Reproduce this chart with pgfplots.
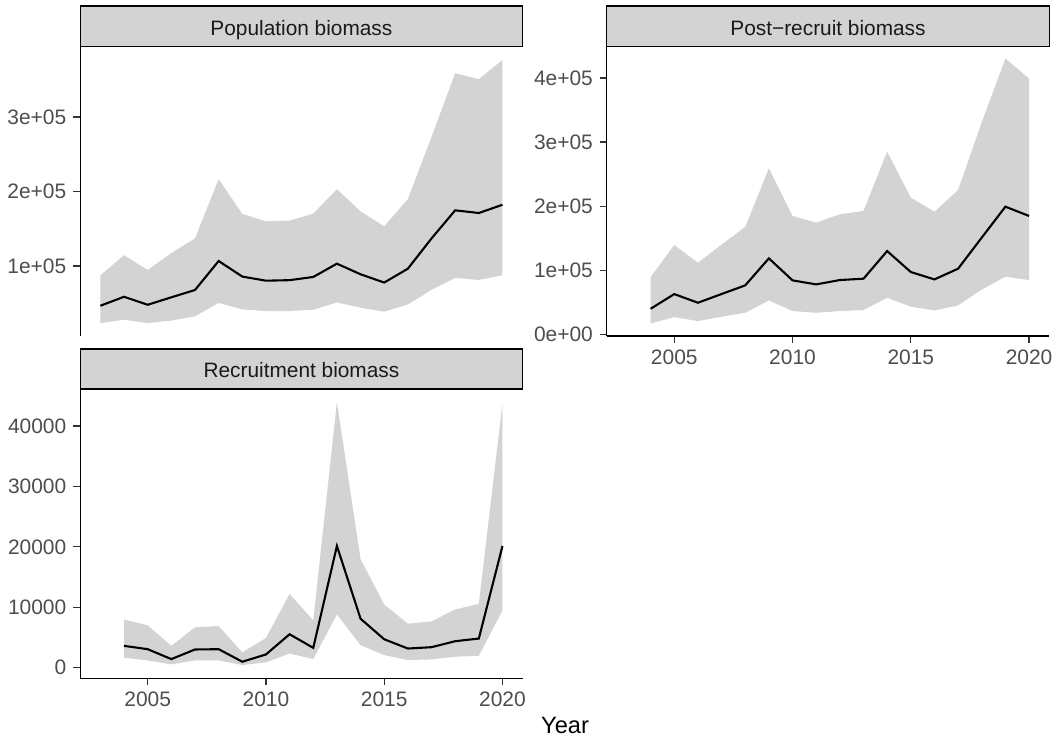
\documentclass[border=0pt]{standalone}
\usepackage{fontspec}
\setmainfont{Liberation Sans}
\usepackage{pgfplots}
\pgfplotsset{compat=1.18}
\usepackage{pgfplotstable}
\usepgfplotslibrary{fillbetween}
\definecolor{band}{HTML}{D3D3D3}
\definecolor{ticklab}{HTML}{4D4D4D}
\definecolor{tickcol}{HTML}{333333}
\definecolor{striptext}{HTML}{1A1A1A}

\pgfplotstableread{
year lo mid hi
2003 23400 46700 87600
2004 28000 58700 114500
2005 23400 48000 94700
2006 26800 58000 117500
2007 32500 67800 137000
2008 50500 106700 216700
2009 41800 85800 170000
2010 39600 80300 160000
2011 39600 81000 160900
2012 41300 85300 170200
2013 51100 103100 203100
2014 44000 88900 173300
2015 38700 77800 153300
2016 48400 96400 189800
2017 68000 137000 273300
2018 84000 174700 358700
2019 81300 171100 350700
2020 87600 182200 376400
}\popdata

\pgfplotstableread{
year lo mid hi
2004 17100 40000 89500
2005 27000 62900 139400
2006 20800 49400 111800
2007 27600 63000 140000
2008 33800 76500 167500
2009 53000 118600 259000
2010 36400 84300 184700
2011 33800 78000 174300
2012 36400 84800 187300
2013 38000 86900 192500
2014 57200 130000 285000
2015 43200 97300 213300
2016 37500 85800 191400
2017 45300 102500 225200
2018 70000 151000 331000
2019 90000 199200 430200
2020 84800 184700 399000
}\postdata

\pgfplotstableread{
year lo mid hi
2004 1640 3610 7990
2005 1200 3060 7000
2006 550 1420 3610
2007 1200 3010 6680
2008 1200 3060 6890
2009 440 985 2520
2010 880 2190 4920
2011 2350 5530 12200
2012 1420 3280 7820
2013 8810 20140 43940
2014 3720 8100 17950
2015 2080 4700 10450
2016 1260 3170 7280
2017 1370 3390 7660
2018 1810 4380 9630
2019 1970 4820 10560
2020 9470 20140 43780
}\recdata

\pgfplotsset{
  facet/.style={
    scale only axis, width=221.75pt, height=145pt,
    xmin=2002.15, xmax=2020.85,
    axis line style={line width=0.6pt, black},
    tick style={line width=0.6pt, tickcol},
    tick align=outside, major tick length=3.5pt,
    ticklabel style={font=\fontsize{10.5}{12}\selectfont, text=ticklab},
    /pgf/number format/assume math mode=true,
    minor tick num=0,
    axis y line*=left, axis x line*=bottom,
  },
}

\begin{document}
\begin{tikzpicture}
\path (0pt,0pt) rectangle (529.5pt,370pt);

% Population biomass
\begin{axis}[facet, at={(40.25pt,201.5pt)}, anchor=south west,
  xtick=\empty, x axis line style={draw=none},
  ymin=5960, ymax=394040,
  ytick={100000,200000,300000},
  yticklabels={1e+05,2e+05,3e+05}]
\addplot[name path=U, draw=none] table[x=year,y=hi] {\popdata};
\addplot[name path=L, draw=none] table[x=year,y=lo] {\popdata};
\addplot[band, draw=none] fill between[of=U and L];
\addplot[black, line width=1.05pt] table[x=year,y=mid] {\popdata};
\end{axis}

% Post-recruit biomass
\begin{axis}[facet, at={(304.25pt,201.5pt)}, anchor=south west,
  xtick={2005,2010,2015,2020},
  xticklabels={2005,2010,2015,2020},
  ymin=-2600, ymax=448400,
  ytick={0,100000,200000,300000,400000},
  yticklabels={0e+00,1e+05,2e+05,3e+05,4e+05}]
\addplot[name path=U, draw=none] table[x=year,y=hi] {\postdata};
\addplot[name path=L, draw=none] table[x=year,y=lo] {\postdata};
\addplot[band, draw=none] fill between[of=U and L];
\addplot[black, line width=1.05pt] table[x=year,y=mid] {\postdata};
\end{axis}

% Recruitment biomass
\begin{axis}[facet, at={(40.25pt,30pt)}, anchor=south west,
  xtick={2005,2010,2015,2020},
  xticklabels={2005,2010,2015,2020},
  ymin=-1735, ymax=46115,
  ytick={0,10000,20000,30000,40000},
  yticklabels={0,10000,20000,30000,40000}]
\addplot[name path=U, draw=none] table[x=year,y=hi] {\recdata};
\addplot[name path=L, draw=none] table[x=year,y=lo] {\recdata};
\addplot[band, draw=none] fill between[of=U and L];
\addplot[black, line width=1.05pt] table[x=year,y=mid] {\recdata};
\end{axis}

% strips
\draw[line width=0.6pt, fill=band] (40.25pt,346.5pt) rectangle (262pt,367pt);
\node[anchor=base, font=\fontsize{10.45}{12}\selectfont, text=striptext, inner sep=0pt] at (151.125pt,352.25pt) {Population biomass};
\draw[line width=0.6pt, fill=band] (304.25pt,346.5pt) rectangle (526pt,367pt);
\node[anchor=base, font=\fontsize{10.45}{12}\selectfont, text=striptext, inner sep=0pt] at (415.125pt,352.25pt) {Post−recruit biomass};
\draw[line width=0.6pt, fill=band] (40.25pt,175pt) rectangle (262pt,195pt);
\node[anchor=base, font=\fontsize{10.45}{12}\selectfont, text=striptext, inner sep=0pt] at (151.125pt,180.5pt) {Recruitment biomass};

% axis title
\node[anchor=base, font=\fontsize{11.85}{14}\selectfont, inner sep=0pt] at (283.3pt,2.5pt) {Year};
\end{tikzpicture}
\end{document}
